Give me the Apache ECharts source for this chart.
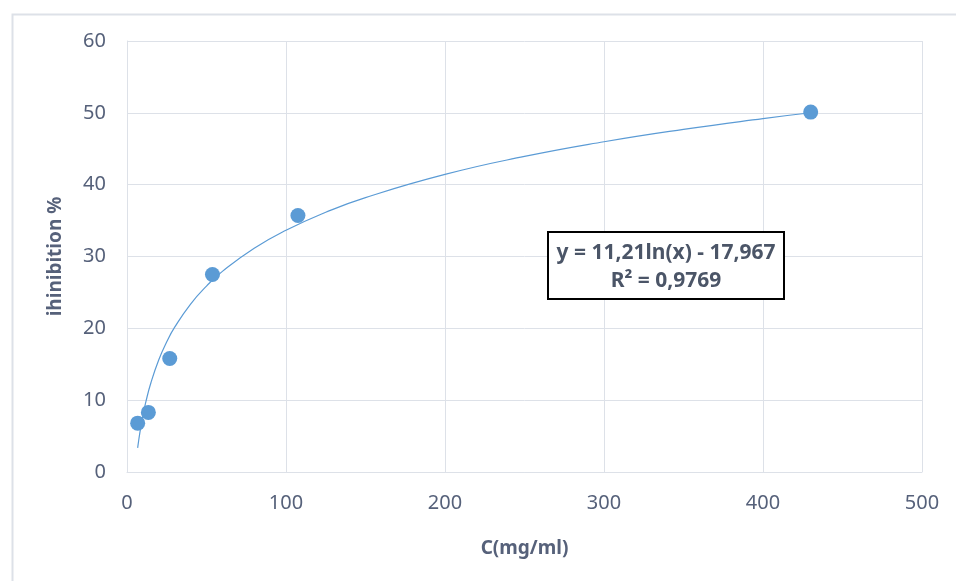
<!DOCTYPE html>
<html>
<head>
<meta charset="utf-8">
<script src="https://cdn.jsdelivr.net/npm/echarts@6/dist/echarts.min.js"></script>
<style>
html,body{margin:0;padding:0;background:#fff;}
#chart{width:956px;height:581px;}
</style>
</head>
<body>
<div id="chart"></div>
<script>
// Measured points (concentration mg/ml, inhibition %)
var concentrations = [6.72, 13.44, 26.88, 53.75, 107.5, 430];
var inhibition = [6.8, 8.3, 15.8, 27.5, 35.7, 50.1];
// Logarithmic trendline samples (as drawn in the chart)
var trendX = [6.7, 7, 8, 9, 10, 12, 15, 20, 25, 30, 40, 50, 60, 80, 100, 125, 150, 200, 250, 300, 350, 400, 430];
var trendY = [3.356, 3.847, 5.343, 6.664, 7.845, 9.889, 12.390, 15.615, 18.117, 20.160, 23.386, 25.887, 27.930, 31.155, 33.657, 36.158, 38.202, 41.427, 43.929, 45.973, 47.700, 49.198, 50.008];
var xTicks = [0, 100, 200, 300, 400, 500];
var yTicks = [0, 10, 20, 30, 40, 50, 60];
var equationText = 'y = 11,21ln(x) - 17,967';
var r2Text = 'R² = 0,9769';

var chart = echarts.init(document.getElementById('chart'), null, {renderer: 'canvas'});
var textColor = '#56617a';
var gridColor = '#dde1e8';
var font = 'Noto Sans';

var pts = concentrations.map(function (x, i) { return [x, inhibition[i]]; });
var trend = trendX.map(function (x, i) { return [x, trendY[i]]; });

chart.setOption({
  backgroundColor: '#fff',
  animation: false,
  grid: {left: 127, right: 34, top: 41, bottom: 109, containLabel: false},
  xAxis: {
    type: 'value', min: xTicks[0], max: xTicks[xTicks.length - 1], interval: 100,
    name: 'C(mg/ml)', nameLocation: 'middle', nameGap: 67,
    nameTextStyle: {color: textColor, fontSize: 19, fontWeight: 'bold', fontFamily: font},
    axisLine: {show: true, lineStyle: {color: gridColor, width: 1}},
    axisTick: {show: false},
    axisLabel: {color: textColor, fontSize: 20, fontFamily: font, margin: 21},
    splitLine: {show: true, lineStyle: {color: gridColor, width: 1}}
  },
  yAxis: {
    type: 'value', min: yTicks[0], max: yTicks[yTicks.length - 1], interval: 10,
    name: 'ihinibition %', nameLocation: 'middle', nameGap: 62, nameRotate: 90,
    nameTextStyle: {color: textColor, fontSize: 19, fontWeight: 'bold', fontFamily: font},
    axisLine: {show: true, lineStyle: {color: gridColor, width: 1}},
    axisTick: {show: false},
    axisLabel: {color: textColor, fontSize: 20, fontFamily: font, margin: 21},
    splitLine: {show: true, lineStyle: {color: gridColor, width: 1}}
  },
  series: [
    {
      type: 'line', data: trend, smooth: true, showSymbol: false, symbol: 'none',
      lineStyle: {color: '#5b9bd5', width: 1.2}, z: 2
    },
    {
      type: 'scatter', data: pts, symbolSize: 15,
      itemStyle: {color: '#5b9bd5', opacity: 1}, z: 3
    }
  ],
  graphic: [
    {
      type: 'rect', left: 10, top: 12, z: 0, silent: true,
      shape: {width: 960, height: 600},
      style: {fill: 'none', stroke: '#dde1e8', lineWidth: 2}
    },
    {
      type: 'rect', x: 548, y: 232, z: 100, silent: true,
      shape: {x: 0, y: 0, width: 236, height: 67},
      style: {fill: '#fff', stroke: '#000', lineWidth: 2}
    },
    {
      type: 'text', x: 666, y: 253, z: 101, silent: true,
      style: {text: equationText, fill: '#4b5567', fontSize: 21, fontWeight: 'bold',
        fontFamily: font, align: 'center', verticalAlign: 'middle'}
    },
    {
      type: 'text', x: 666, y: 281, z: 101, silent: true,
      style: {text: r2Text, fill: '#4b5567', fontSize: 21, fontWeight: 'bold',
        fontFamily: font, align: 'center', verticalAlign: 'middle'}
    }
  ]
});
</script>
</body>
</html>
